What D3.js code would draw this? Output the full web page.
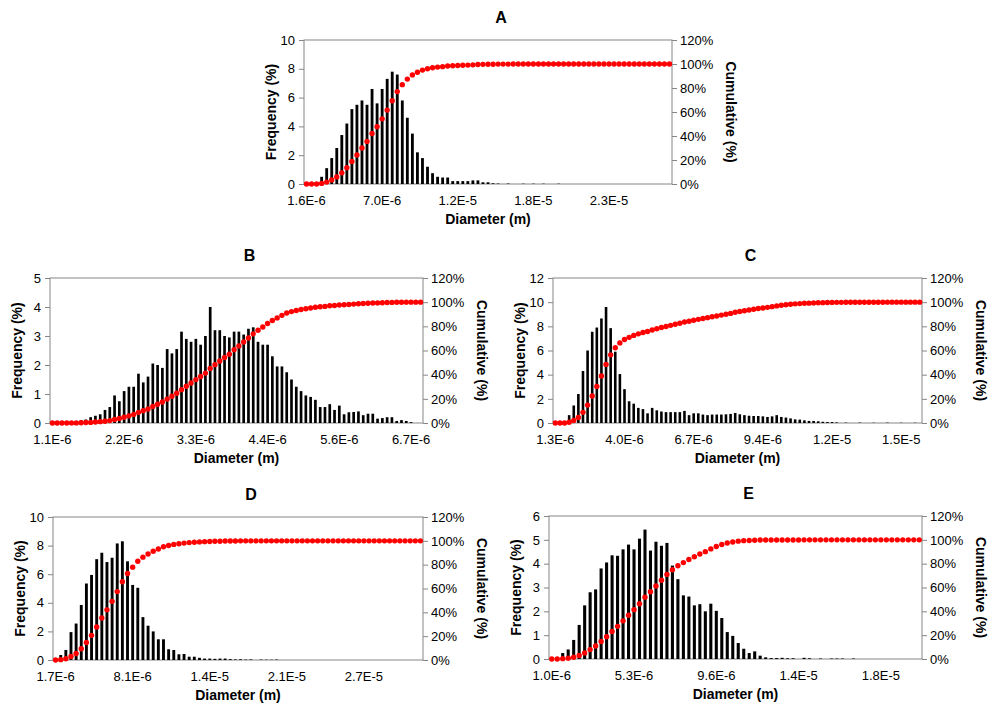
<!DOCTYPE html>
<html><head><meta charset="utf-8">
<script src="https://cdn.jsdelivr.net/npm/d3@7"></script>
<style>
body { margin: 0; background: #fff; }
text { font-family: "Liberation Sans", Arial, sans-serif; }
</style>
</head><body><div id="chart"></div>
<script>
// ---- data (frequency %, cumulative %) ----
var aFreq = [0,0,0,0.5,1.1,1.8,2.5,3.4,4.2,5.2,
  5.5,5.8,5.5,6.6,5.6,6.6,7.3,7.8,7.6,5.8,
  4.6,3.5,2.2,1.8,1.2,0.75,0.5,0.45,0.45,0.2,
  0.2,0.2,0.2,0.25,0.25,0.12,0.12,0.05,0.03,0,
  0.03,0,0,0.02,0,0.02,0,0.02,0,0,
  0.02,0,0,0,0,0,0,0,0,0,
  0,0,0,0,0,0,0,0,0,0,
  0,0,0];
var aCum = [0,0,0,0.5,1.6,3.4,5.9,9.3,13.5,18.7,
  24.2,30.0,35.5,42.1,47.7,54.3,61.6,69.4,77.0,82.8,
  87.4,90.9,93.1,94.9,96.1,96.9,97.4,97.8,98.3,98.5,
  98.7,98.9,99.1,99.3,99.6,99.7,99.8,99.85,99.9,99.9,
  99.9,99.95,100,100,100,100,100,100,100,100,
  100,100,100,100,100,100,100,100,100,100,
  100,100,100,100,100,100,100,100,100,100,
  100,100,100];
var aTicks = ["1.6E-6","7.0E-6","1.2E-5","1.8E-5","2.3E-5"];

var bFreq = [0,0,0,0.03,0.05,0.07,0.1,0.12,0.2,0.25,
  0.3,0.45,0.55,0.95,0.75,1.1,1.25,1.25,1.7,1.4,
  1.6,2.05,2.0,1.9,2.55,2.4,2.55,3.15,2.9,2.8,
  2.9,2.7,3.0,4.0,3.2,3.2,3.0,2.95,3.15,3.15,
  3.05,3.25,3.3,2.8,2.7,2.7,2.3,1.95,1.95,1.75,
  1.5,1.25,1.1,0.95,0.9,0.8,0.55,0.55,0.65,0.45,
  0.6,0.3,0.37,0.38,0.4,0.27,0.32,0.32,0.15,0.17,
  0.2,0.2,0.07,0.1,0.07,0.03,0,0];
var bCum = [0,0,0,0,0.1,0.1,0.2,0.4,0.5,0.8,
  1.1,1.5,2.0,2.9,3.7,4.7,5.9,7.1,8.8,10.1,
  11.6,13.6,15.5,17.4,19.8,22.1,24.6,27.6,30.4,33.1,
  35.9,38.5,41.3,45.2,48.3,51.3,54.2,57.0,60.6,63.8,
  67.0,70.4,73.8,76.7,79.5,82.3,84.8,87.0,89.1,91.0,
  92.2,93.1,93.9,94.6,95.2,95.8,96.2,96.5,97.0,97.3,
  97.7,97.9,98.1,98.4,98.7,98.9,99.1,99.3,99.4,99.5,
  99.7,99.8,99.9,99.9,100,100,100,100];
var bTicks = ["1.1E-6","2.2E-6","3.3E-6","4.4E-6","5.6E-6","6.7E-6"];

var cFreq = [0,0,0,0.65,1.45,2.4,4.3,6.0,7.55,7.9,
  8.65,9.6,7.85,5.9,4.05,2.8,1.8,1.6,1.25,1.15,
  0.8,1.25,1.05,0.95,0.9,0.9,0.9,0.9,1.0,0.65,
  0.8,0.8,0.7,0.65,0.7,0.7,0.7,0.72,0.75,0.83,
  0.72,0.65,0.6,0.58,0.58,0.55,0.5,0.55,0.65,0.5,
  0.45,0.38,0.3,0.28,0.22,0.17,0.17,0.14,0.1,0.08,
  0.08,0.05,0,0.03,0,0,0.03,0,0,0.02,
  0,0,0.03,0,0,0.02,0,0,0.02,0];
var cCum = [0,0,0,0.65,2.1,4.5,8.8,14.8,22.4,30.3,
  38.9,48.5,56.4,62.3,66.3,69.1,70.9,72.5,73.8,74.9,
  75.7,77.0,78.0,79.0,79.9,80.8,81.7,82.6,83.6,84.2,
  85.0,85.8,86.5,87.2,87.9,88.6,89.3,90.0,90.7,91.6,
  92.3,92.9,93.5,94.1,94.7,95.2,95.7,96.3,96.9,97.4,
  97.9,98.3,98.6,98.8,99.1,99.2,99.4,99.5,99.6,99.7,
  99.8,99.85,99.85,99.9,99.9,99.9,99.9,99.9,99.95,99.95,
  99.95,99.95,100,100,100,100,100,100,100,100];
var cTicks = ["1.3E-6","4.0E-6","6.7E-6","9.4E-6","1.2E-5","1.5E-5"];

var dFreq = [0,0.35,0.7,1.95,2.55,3.85,5.35,5.95,7.05,7.5,
  6.85,7.15,8.15,8.3,6.9,5.25,5.05,3.0,2.4,2.0,
  1.45,1.45,0.75,0.7,0.4,0.42,0.23,0.23,0.15,0.1,
  0.1,0.08,0.1,0.1,0.06,0.04,0.05,0.03,0.04,0,
  0.03,0.02,0.02,0.03,0,0,0,0,0,0,
  0,0,0,0,0,0,0,0,0,0,
  0,0,0,0,0,0,0,0,0,0,
  0,0];
var dCum = [0,0.3,1.0,3.0,5.5,9.4,14.7,20.7,27.7,35.2,
  42.1,49.2,57.4,65.7,72.6,77.9,82.9,86.3,89.0,91.3,
  93.2,95.0,96.1,97.0,97.6,98.1,98.5,98.8,99.1,99.3,
  99.5,99.6,99.7,99.8,99.9,99.9,100,100,100,100,
  100,100,100,100,100,100,100,100,100,100,
  100,100,100,100,100,100,100,100,100,100,
  100,100,100,100,100,100,100,100,100,100,
  100,100];
var dTicks = ["1.7E-6","8.1E-6","1.4E-5","2.1E-5","2.7E-5"];

var eFreq = [0,0,0.25,0.4,0.8,1.43,2.25,2.8,2.92,3.8,
  4.05,4.35,4.33,4.6,4.8,4.6,5.05,5.43,4.55,4.92,
  4.75,4.87,3.92,3.35,2.67,2.62,2.25,2.3,2.0,2.32,
  2.02,1.72,1.13,0.97,0.67,0.43,0.25,0.32,0.14,0.07,
  0.04,0.04,0.05,0.03,0.03,0,0.05,0.03,0,0.02,
  0,0.02,0.02,0.02,0,0.02,0,0,0,0,
  0,0,0,0,0,0,0,0];
var eCum = [0,0,0.3,0.7,1.5,2.9,5.1,7.9,10.9,14.7,
  18.7,23.1,27.4,32.0,36.8,41.4,46.4,51.9,56.4,61.3,
  66.1,71.0,74.9,78.2,80.9,83.5,85.8,88.1,90.1,92.4,
  94.4,96.1,97.3,98.2,98.9,99.3,99.5,99.7,99.8,99.8,
  99.9,99.9,99.9,99.9,99.9,99.9,100,100,100,100,
  100,100,100,100,100,100,100,100,100,100,
  100,100,100,100,100,100,100,100];
var eTicks = ["1.0E-6","5.3E-6","9.6E-6","1.4E-5","1.8E-5"];

var labelEvery = 15;
var axisGrey = "#868686";

var svg = d3.select("#chart").append("svg")
  .attr("width", 1000).attr("height", 715);

function drawPanel(p) {
  var n = p.freq.length;
  var x = d3.scaleBand().domain(d3.range(n)).range([p.left, p.right]);
  var y = d3.scaleLinear().domain([0, p.yMax]).range([p.bottom, p.top]);
  var y2 = d3.scaleLinear().domain([0, 120]).range([p.bottom, p.top]);
  var bw = x.bandwidth();
  var g = svg.append("g");

  // plot frame
  g.append("rect")
    .attr("x", p.left).attr("y", p.top)
    .attr("width", p.right - p.left).attr("height", p.bottom - p.top)
    .attr("fill", "none").attr("stroke", axisGrey);

  // frequency bars
  g.selectAll("rect.bar").data(p.freq).join("rect")
    .attr("class", "bar")
    .attr("x", function(d, i) { return x(i) + bw * 0.22; })
    .attr("width", bw * 0.56)
    .attr("y", function(d) { return y(d); })
    .attr("height", function(d) { return p.bottom - y(d); })
    .attr("fill", "#000");

  // cumulative markers
  g.selectAll("circle.cum").data(p.cum).join("circle")
    .attr("class", "cum")
    .attr("cx", function(d, i) { return x(i) + bw / 2; })
    .attr("cy", function(d) { return y2(d); })
    .attr("r", 2.7)
    .attr("fill", "#ff0000");

  // axes
  var left = g.append("g").attr("transform", "translate(" + p.left + ",0)")
    .call(d3.axisLeft(y).tickValues(d3.range(0, p.yMax + 0.001, p.yStep))
      .tickFormat(d3.format("d"))
      .tickSize(5).tickPadding(4));
  var right = g.append("g").attr("transform", "translate(" + p.right + ",0)")
    .call(d3.axisRight(y2).tickValues(d3.range(0, 121, 20))
      .tickFormat(function(d) { return d + "%"; })
      .tickSize(5).tickPadding(3));
  var bottom = g.append("g").attr("transform", "translate(0," + p.bottom + ")")
    .call(d3.axisBottom(x)
      .tickValues(p.ticks.map(function(t, i) { return i * labelEvery; }))
      .tickFormat(function(d) { return p.ticks[d / labelEvery]; })
      .tickSize(0).tickPadding(12));

  [left, right, bottom].forEach(function(a) {
    a.select(".domain").remove();
    a.selectAll("line").attr("stroke", axisGrey);
    a.selectAll("text").attr("font-size", 13).attr("fill", "#000")
      .style("font-family", "'Liberation Sans', Arial, sans-serif");
  });

  var midY = (p.top + p.bottom) / 2, midX = (p.left + p.right) / 2;

  g.append("text")
    .attr("transform", "translate(" + (p.left - 33) + "," + midY + ") rotate(-90)")
    .attr("text-anchor", "middle").attr("dy", "0.35em")
    .attr("font-size", 14).attr("font-weight", "bold")
    .text("Frequency (%)");

  g.append("text")
    .attr("transform", "translate(" + (p.right + 59) + "," + midY + ") rotate(90)")
    .attr("text-anchor", "middle").attr("dy", "0.35em")
    .attr("font-size", 14).attr("font-weight", "bold")
    .text("Cumulative (%)");

  g.append("text")
    .attr("x", midX).attr("y", p.bottom + 40)
    .attr("text-anchor", "middle")
    .attr("font-size", 14).attr("font-weight", "bold")
    .text("Diameter (m)");

  g.append("text")
    .attr("x", midX + 13).attr("y", p.top - 17)
    .attr("text-anchor", "middle")
    .attr("font-size", 16).attr("font-weight", "bold")
    .text(p.title);
}

drawPanel({ title: "A", freq: aFreq, cum: aCum, ticks: aTicks, yMax: 10, yStep: 2,
  left: 304, right: 672, top: 40, bottom: 184 });
drawPanel({ title: "B", freq: bFreq, cum: bCum, ticks: bTicks, yMax: 5, yStep: 1,
  left: 50, right: 423, top: 278, bottom: 423 });
drawPanel({ title: "C", freq: cFreq, cum: cCum, ticks: cTicks, yMax: 12, yStep: 2,
  left: 553, right: 922, top: 278, bottom: 423 });
drawPanel({ title: "D", freq: dFreq, cum: dCum, ticks: dTicks, yMax: 10, yStep: 2,
  left: 53, right: 423, top: 517, bottom: 660 });
drawPanel({ title: "E", freq: eFreq, cum: eCum, ticks: eTicks, yMax: 6, yStep: 1,
  left: 549, right: 922, top: 516, bottom: 659 });
</script>
</body></html>
